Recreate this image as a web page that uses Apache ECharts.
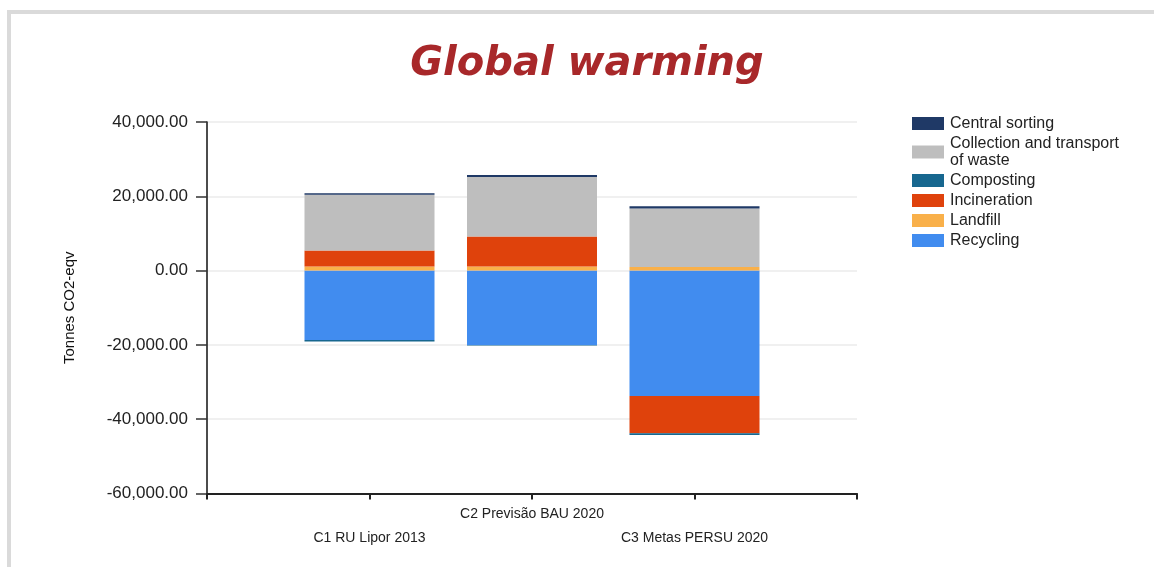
<!DOCTYPE html>
<html>
<head>
<meta charset="utf-8">
<title>Global warming</title>
<script src="https://cdn.jsdelivr.net/npm/echarts@6/dist/echarts.min.js"></script>
<style>
  html, body { margin: 0; padding: 0; background: #ffffff; }
  #chart { width: 1154px; height: 567px; }
</style>
</head>
<body>
<div id="chart"></div>
<script>
// Scenario categories (x axis)
const categories = ['C1 RU Lipor 2013', 'C2 Previsão BAU 2020', 'C3 Metas PERSU 2020'];

// Emissions per process, tonnes CO2-eqv
const centralSorting = [450, 500, 600];
const collectionTransport = [15000, 16000, 15700];
const composting = [-400, -150, -500];
const incineration = [4300, 8100, -10000];
const landfill = [1100, 1100, 1000];
const recycling = [-18700, -20000, -33750];

// Y axis ticks
const yMin = -60000;
const yMax = 40000;
const yStep = 20000;

const legendNames = [
  'Central sorting',
  'Collection and transport of waste',
  'Composting',
  'Incineration',
  'Landfill',
  'Recycling'
];

const colors = {
  'Central sorting': '#1f3966',
  'Collection and transport of waste': '#bebebe',
  'Composting': '#17678f',
  'Incineration': '#df420c',
  'Landfill': '#f9b04a',
  'Recycling': '#418cef'
};

// The axis has an empty slot at each end so the bars sit on interior ticks
const axisCats = [''].concat(categories, ['']);
const pad = arr => ['-'].concat(arr, ['-']);

// Stack order from the zero line outward
const stackOrder = [
  ['Recycling', recycling],
  ['Landfill', landfill],
  ['Incineration', incineration],
  ['Composting', composting],
  ['Collection and transport of waste', collectionTransport],
  ['Central sorting', centralSorting]
];

const chart = echarts.init(document.getElementById('chart'), null, { renderer: 'canvas' });

const font = '"Liberation Sans", Arial, sans-serif';

chart.setOption({
  animation: false,
  backgroundColor: '#ffffff',
  title: {
    text: 'Global warming',
    left: 587,
    textAlign: 'center',
    top: 45,
    padding: 0,
    textStyle: {
      fontFamily: '"DejaVu Sans", Verdana, sans-serif',
      fontSize: 40,
      fontWeight: 'bold',
      fontStyle: 'italic',
      color: '#a8282a'
    }
  },
  graphic: [
    { type: 'rect', shape: { x: 7, y: 10, width: 4, height: 557 }, style: { fill: '#dadada' }, silent: true },
    { type: 'rect', shape: { x: 7, y: 10, width: 1147, height: 4 }, style: { fill: '#dadada' }, silent: true }
  ],
  legend: {
    orient: 'vertical',
    left: 912,
    top: 115,
    padding: 0,
    itemWidth: 32,
    itemHeight: 13,
    itemGap: 3,
    icon: 'rect',
    data: legendNames,
    formatter: name => name === 'Collection and transport of waste'
      ? 'Collection and transport\nof waste' : name,
    textStyle: {
      fontFamily: font,
      fontSize: 16,
      lineHeight: 17,
      color: '#222222',
      padding: [0, 0, 0, 1]
    }
  },
  grid: {
    left: 207,
    right: 297,
    top: 122,
    bottom: 73.5,
    containLabel: false
  },
  xAxis: {
    type: 'category',
    data: axisCats,
    boundaryGap: false,
    axisLine: { onZero: false, lineStyle: { color: '#222222', width: 2 } },
    axisTick: { show: true, interval: 0, length: 6, lineStyle: { color: '#222222', width: 2 } },
    axisLabel: {
      interval: 0,
      margin: 8.5,
      fontFamily: font,
      fontSize: 14,
      lineHeight: 24,
      color: '#222222',
      formatter: (v, i) => (i % 2 === 1 ? '\n' + v : v)
    },
    splitLine: { show: false }
  },
  yAxis: {
    type: 'value',
    min: yMin,
    max: yMax,
    interval: yStep,
    name: 'Tonnes CO2-eqv',
    nameLocation: 'middle',
    nameGap: 130,
    nameTextStyle: {
      fontFamily: font,
      fontSize: 15,
      color: '#111111'
    },
    axisLine: { show: true, lineStyle: { color: '#111111', width: 1.5 } },
    axisTick: { show: true, length: 11, lineStyle: { color: '#333333', width: 1.5 } },
    axisLabel: {
      margin: 19,
      fontFamily: font,
      fontSize: 17,
      color: '#222222',
      formatter: v => v.toLocaleString('en-US', { minimumFractionDigits: 2, maximumFractionDigits: 2 })
    },
    splitLine: { show: true, lineStyle: { color: '#ebebeb', width: 1.5 } }
  },
  series: stackOrder.map(([name, values]) => ({
    name: name,
    type: 'bar',
    stack: 'total',
    barWidth: 130,
    data: pad(values),
    itemStyle: { color: colors[name] }
  }))
});
</script>
</body>
</html>
